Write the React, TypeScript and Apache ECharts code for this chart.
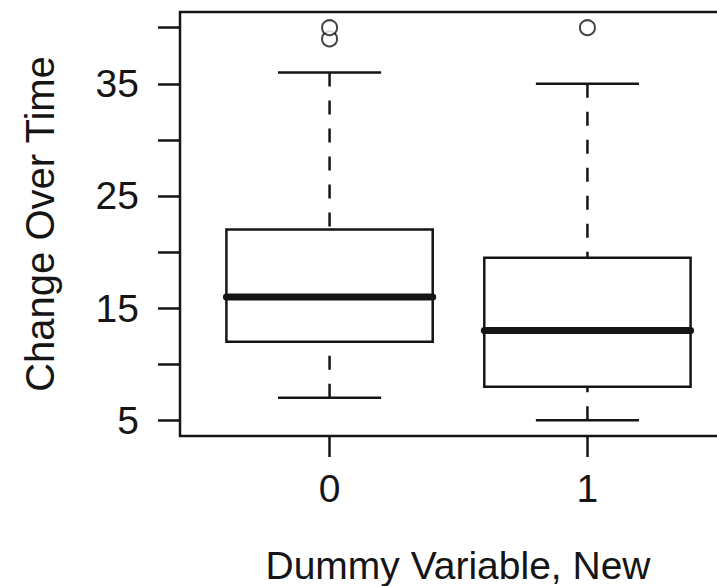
import React, { useEffect, useRef } from "react";
import * as echarts from "echarts";

const categories = ["0", "1"];
const positions = [1, 2];
const whiskerLow = [7, 5];
const q1 = [12, 8];
const median = [16, 13];
const q3 = [22, 19.5];
const whiskerHigh = [36, 35];
const outliers = [
  [1, 39],
  [1, 40],
  [2, 40],
];
const yTickValues = [5, 10, 15, 20, 25, 30, 35, 40];
const yLabelValues = [5, 15, 25, 35];
const xTitle = "Dummy Variable, New";
const yTitle = "Change Over Time";

const INK = "#151515";
const FONT = "'Liberation Sans', Arial, Helvetica, sans-serif";

export default function App() {
  const ref = useRef<HTMLDivElement>(null);
  useEffect(() => {
    if (!ref.current) return;
    const chart = echarts.init(ref.current, undefined, { renderer: "svg" });
    const boxData = positions.map((p, i) => [p, whiskerLow[i], q1[i], median[i], q3[i], whiskerHigh[i]]);
    chart.setOption({
      animation: false,
      grid: {
        left: 180,
        top: 12,
        width: 557,
        height: 424,
        show: true,
        borderColor: INK,
        borderWidth: 2.5,
        backgroundColor: "transparent",
      },
      xAxis: {
        type: "value",
        min: 0.42,
        max: 2.58,
        axisLine: { show: false },
        splitLine: { show: false },
        axisTick: {
          show: true,
          customValues: positions,
          length: 21,
          lineStyle: { color: INK, width: 2.5 },
        },
        axisLabel: {
          customValues: positions,
          formatter: (v: number) => categories[Math.round(v) - 1] ?? "",
          margin: 33,
          fontSize: 39,
          color: INK,
          fontFamily: FONT,
        },
      },
      yAxis: {
        type: "value",
        min: 3.6,
        max: 41.4,
        axisLine: { show: false },
        splitLine: { show: false },
        axisTick: {
          show: true,
          customValues: yTickValues,
          length: 22,
          lineStyle: { color: INK, width: 2.5 },
        },
        axisLabel: {
          customValues: yLabelValues,
          margin: 41,
          fontSize: 39,
          color: INK,
          fontFamily: FONT,
        },
      },
      series: [
        {
          type: "custom",
          data: boxData,
          encode: { x: 0, y: [1, 2, 3, 4, 5] },
          renderItem: (params: any, api: any) => {
            const x = api.value(0);
            const lo = api.value(1);
            const a = api.value(2);
            const m = api.value(3);
            const b = api.value(4);
            const hi = api.value(5);
            const half = api.size([0.4, 0])[0];
            const capHalf = api.size([0.2, 0])[0];
            const pLo = api.coord([x, lo]);
            const pA = api.coord([x, a]);
            const pM = api.coord([x, m]);
            const pB = api.coord([x, b]);
            const pHi = api.coord([x, hi]);
            const cx = pM[0];
            const solid = { stroke: INK, lineWidth: 2.5, fill: "none" };
            const dashed = { stroke: INK, lineWidth: 2.5, lineDash: [14, 14] };
            return {
              type: "group",
              children: [
                { type: "line", shape: { x1: cx, y1: pHi[1], x2: cx, y2: pB[1] }, style: dashed },
                { type: "line", shape: { x1: cx, y1: pLo[1], x2: cx, y2: pA[1] }, style: dashed },
                { type: "line", shape: { x1: cx - capHalf, y1: pHi[1], x2: cx + capHalf, y2: pHi[1] }, style: solid },
                { type: "line", shape: { x1: cx - capHalf, y1: pLo[1], x2: cx + capHalf, y2: pLo[1] }, style: solid },
                {
                  type: "rect",
                  shape: { x: cx - half, y: pB[1], width: 2 * half, height: pA[1] - pB[1] },
                  style: { stroke: INK, lineWidth: 2.5, fill: "#fff" },
                },
                {
                  type: "line",
                  shape: { x1: cx - half, y1: pM[1], x2: cx + half, y2: pM[1] },
                  style: { stroke: INK, lineWidth: 7, lineCap: "round" },
                },
              ],
            };
          },
        },
        {
          type: "scatter",
          data: outliers,
          symbol: "emptyCircle",
          symbolSize: 15,
          itemStyle: { color: INK, borderColor: INK, borderWidth: 2.5 },
        },
      ],
      graphic: [
        {
          type: "text",
          x: 458,
          y: 565,
          style: {
            text: xTitle,
            fontSize: 39,
            fontFamily: FONT,
            fill: INK,
            textAlign: "center",
            textVerticalAlign: "middle",
          },
        },
        {
          type: "text",
          x: 40,
          y: 224,
          rotation: Math.PI / 2,
          style: {
            text: yTitle,
            fontSize: 40,
            fontFamily: FONT,
            fill: INK,
            textAlign: "center",
            textVerticalAlign: "middle",
          },
        },
      ],
    });
    return () => chart.dispose();
  }, []);
  return (
    <div style={{ position: "fixed", left: 0, top: 0, width: 717, height: 586, overflow: "hidden", background: "#fff" }}>
      <div ref={ref} style={{ width: 760, height: 586 }} />
    </div>
  );
}
